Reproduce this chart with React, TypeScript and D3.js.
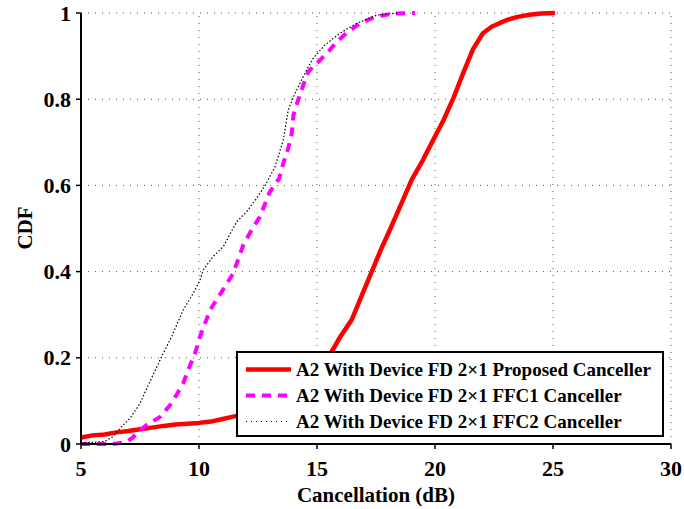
import React from "react";
import * as d3 from "d3";

const xTicks = [5, 10, 15, 20, 25, 30];
const yTicks = [0, 0.2, 0.4, 0.6, 0.8, 1];
const yTickLabels = ["0", "0.2", "0.4", "0.6", "0.8", "1"];

const proposedX = [5, 5.5, 6, 6.5, 7, 7.5, 8, 8.5, 9, 9.5, 10, 10.5, 11, 11.5, 12, 12.5, 13, 13.5, 14, 14.5, 15, 15.3, 15.62, 16.0, 16.47, 16.9, 17.32, 17.7, 18.09, 18.64, 19.01, 19.5, 19.92, 20.35, 20.76, 21.19, 21.6, 22.03, 22.4, 22.75, 23.1, 23.5, 24, 24.5, 25.08];
const proposedY = [0.015, 0.02, 0.022, 0.027, 0.03, 0.034, 0.038, 0.042, 0.045, 0.047, 0.049, 0.052, 0.058, 0.064, 0.07, 0.077, 0.085, 0.095, 0.11, 0.13, 0.16, 0.185, 0.214, 0.25, 0.288, 0.345, 0.4, 0.45, 0.497, 0.566, 0.613, 0.66, 0.705, 0.75, 0.8, 0.86, 0.915, 0.953, 0.968, 0.977, 0.985, 0.991, 0.996, 0.999, 1.0];

const ffc1X = [5, 5.5, 6, 6.5, 6.9, 7.2, 7.36, 7.78, 8.35, 8.77, 9.05, 9.33, 9.6, 9.83, 10.04, 10.47, 11.1, 11.45, 11.88, 12.23, 12.58, 13.0, 13.4, 13.57, 13.78, 13.93, 14.0, 14.2, 14.42, 14.63, 15.06, 15.48, 15.83, 16.33, 16.82, 17.46, 18.23, 19.15];
const ffc1Y = [0, 0, 0, 0.001, 0.004, 0.015, 0.025, 0.044, 0.063, 0.09, 0.114, 0.141, 0.18, 0.21, 0.249, 0.311, 0.365, 0.396, 0.462, 0.497, 0.527, 0.585, 0.616, 0.651, 0.686, 0.72, 0.763, 0.798, 0.833, 0.864, 0.887, 0.91, 0.933, 0.957, 0.976, 0.991, 0.999, 1.0];

const ffc2X = [5, 5.5, 6, 6.3, 6.65, 7.08, 7.5, 7.92, 8.42, 8.84, 9.33, 9.76, 10.04, 10.18, 10.6, 11.03, 11.6, 12.02, 12.44, 12.8, 13.22, 13.57, 13.78, 14.07, 14.35, 14.63, 14.84, 15.34, 15.97, 16.68, 17.53, 18.4];
const ffc2Y = [0.003, 0.004, 0.006, 0.015, 0.036, 0.06, 0.094, 0.145, 0.203, 0.249, 0.311, 0.35, 0.38, 0.404, 0.435, 0.458, 0.516, 0.539, 0.57, 0.6, 0.643, 0.705, 0.775, 0.814, 0.845, 0.875, 0.895, 0.926, 0.953, 0.976, 0.995, 1.0];

const seriesNames = [
  "A2 With Device FD 2\u00d71 Proposed Canceller",
  "A2 With Device FD 2\u00d71 FFC1 Canceller",
  "A2 With Device FD 2\u00d71 FFC2 Canceller",
];

const FONT = "'Liberation Serif', 'Times New Roman', serif";

export default function App() {
  const W = 684, H = 509;
  const x = d3.scaleLinear().domain([5, 30]).range([81, 671]);
  const y = d3.scaleLinear().domain([0, 1]).range([444, 13]);
  const line = d3.line<[number, number]>().x((d) => x(d[0])).y((d) => y(d[1]));
  const zip = (a: number[], b: number[]) => a.map((v, i) => [v, b[i]] as [number, number]);

  const styles = [
    { stroke: "#ff0000", width: 4.5, dash: "" },
    { stroke: "#ff00ff", width: 4, dash: "9,7" },
    { stroke: "#000000", width: 1.2, dash: "1.5,2" },
  ];
  const data = [zip(proposedX, proposedY), zip(ffc1X, ffc1Y), zip(ffc2X, ffc2Y)];

  const lg = { x: 237, y: 352, w: 426, h: 84 };
  const rowY = [369.5, 395.5, 421.5];

  return (
    <svg width={W} height={H} style={{ position: "absolute", left: 0, top: 0, background: "#fff" }} fontFamily={FONT}>
      <rect x={0} y={0} width={W} height={H} fill="#fff" />
      {xTicks.map((t) => (
        <line key={"gx" + t} x1={x(t)} x2={x(t)} y1={y(0)} y2={y(1)} stroke="#555" strokeWidth={1} strokeDasharray="1,6" />
      ))}
      {yTicks.map((t) => (
        <line key={"gy" + t} x1={x(5)} x2={x(30)} y1={y(t)} y2={y(t)} stroke="#555" strokeWidth={1} strokeDasharray="1,6" />
      ))}
      {data.map((d, i) => (
        <path key={"s" + i} d={line(d) || ""} fill="none" stroke={styles[i].stroke} strokeWidth={styles[i].width}
          strokeDasharray={styles[i].dash || undefined} strokeLinejoin="round" />
      ))}
      <line x1={x(5)} x2={x(30)} y1={y(0)} y2={y(0)} stroke="#000" strokeWidth={2} />
      <line x1={x(5)} x2={x(5)} y1={y(0)} y2={y(1)} stroke="#000" strokeWidth={2} />
      {xTicks.map((t) => (
        <g key={"xt" + t}>
          <line x1={x(t)} x2={x(t)} y1={y(0)} y2={y(0) + 5} stroke="#000" strokeWidth={1.5} />
          <text x={x(t)} y={476} textAnchor="middle" fontSize={22} fontWeight="bold">{t}</text>
        </g>
      ))}
      {yTicks.map((t, i) => (
        <g key={"yt" + t}>
          <line x1={x(5) - 5} x2={x(5)} y1={y(t)} y2={y(t)} stroke="#000" strokeWidth={1.5} />
          <text x={71} y={y(t) + 7.5} textAnchor="end" fontSize={22} fontWeight="bold">{yTickLabels[i]}</text>
        </g>
      ))}
      <text x={376} y={502} textAnchor="middle" fontSize={21} fontWeight="bold">Cancellation (dB)</text>
      <text transform={`translate(32,228) rotate(-90)`} textAnchor="middle" fontSize={21} fontWeight="bold">CDF</text>
      <rect x={lg.x} y={lg.y} width={lg.w} height={lg.h} fill="#fff" stroke="#000" strokeWidth={2} />
      {seriesNames.map((n, i) => (
        <g key={"lg" + i}>
          <line x1={246} x2={291} y1={rowY[i]} y2={rowY[i]} stroke={styles[i].stroke}
            strokeWidth={i === 2 ? 1 : styles[i].width} strokeDasharray={i === 2 ? "1,4" : styles[i].dash || undefined} />
          <text x={296} y={rowY[i] + 6.5} fontSize={19} fontWeight="bold">{n}</text>
        </g>
      ))}
    </svg>
  );
}
